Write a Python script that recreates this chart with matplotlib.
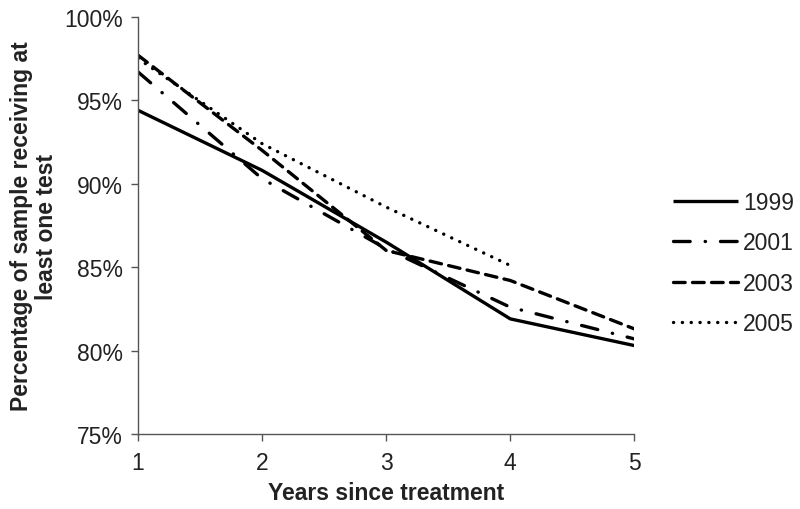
import matplotlib
matplotlib.use("Agg")
import matplotlib.pyplot as plt
from matplotlib.ticker import FuncFormatter

plt.rcParams['font.family'] = ['Liberation Sans', 'DejaVu Sans']

years = [1, 2, 3, 4, 5]
years_2005 = [1, 2, 3, 4]
s1999 = [94.4, 90.8, 86.5, 81.9, 80.3]
s2001 = [96.7, 90.3, 86.1, 82.6, 80.7]
s2003 = [97.7, 92.0, 86.0, 84.2, 81.3]
s2005 = [97.5, 92.4, 88.6, 85.1]
series_labels = ['1999', '2001', '2003', '2005']
y_ticks = [75, 80, 85, 90, 95, 100]

fig = plt.figure(figsize=(8, 5.1), dpi=100)
ax = fig.add_axes([0.1725, 0.147, 0.6205, 0.818])

lw = 2.4
ax.plot(years, s1999, color='black', lw=lw, solid_capstyle='butt', label=series_labels[0])
ax.plot(years, s2001, color='black', lw=lw, dashes=(5, 4.5, 0.1, 4.5), dash_capstyle='round', label=series_labels[1])
ax.plot(years, s2003, color='black', lw=lw, dashes=(3.5, 2.2), dash_capstyle='round', label=series_labels[2])
ax.plot(years_2005, s2005, color='black', lw=lw, dashes=(0.05, 2.6), dash_capstyle='round', label=series_labels[3])

ax.set_xlim(1, 5)
ax.set_ylim(75, 100)
ax.set_xticks(years)
ax.set_yticks(y_ticks)
ax.yaxis.set_major_formatter(FuncFormatter(lambda v, p: f"{v:.0f}%"))

for s in ['top', 'right']:
    ax.spines[s].set_visible(False)
for s in ['left', 'bottom']:
    ax.spines[s].set_color('#555555')
    ax.spines[s].set_linewidth(1.0)
ax.tick_params(axis='both', colors='#555555', labelcolor='#222222', labelsize=16.5, length=5, width=1.0, direction='out')
ax.tick_params(axis='x', pad=7)
ax.tick_params(axis='y', pad=6)

ax.set_xlabel('Years since treatment', fontsize=16.5, fontweight='bold', color='#222222', labelpad=5)
ax.set_ylabel('Percentage of sample receiving at\nleast one test', fontsize=16.5, fontweight='bold', color='#222222', labelpad=4.5, linespacing=1.1)

leg = ax.legend(loc='center left', bbox_to_anchor=(1.0, 0.41), frameon=False, fontsize=16.5,
                handlelength=2.8, handletextpad=0.25, labelspacing=0.75, borderaxespad=1.3)
for t in leg.get_texts():
    t.set_color('#222222')

fig.savefig('out.png', dpi=100, facecolor='white')
